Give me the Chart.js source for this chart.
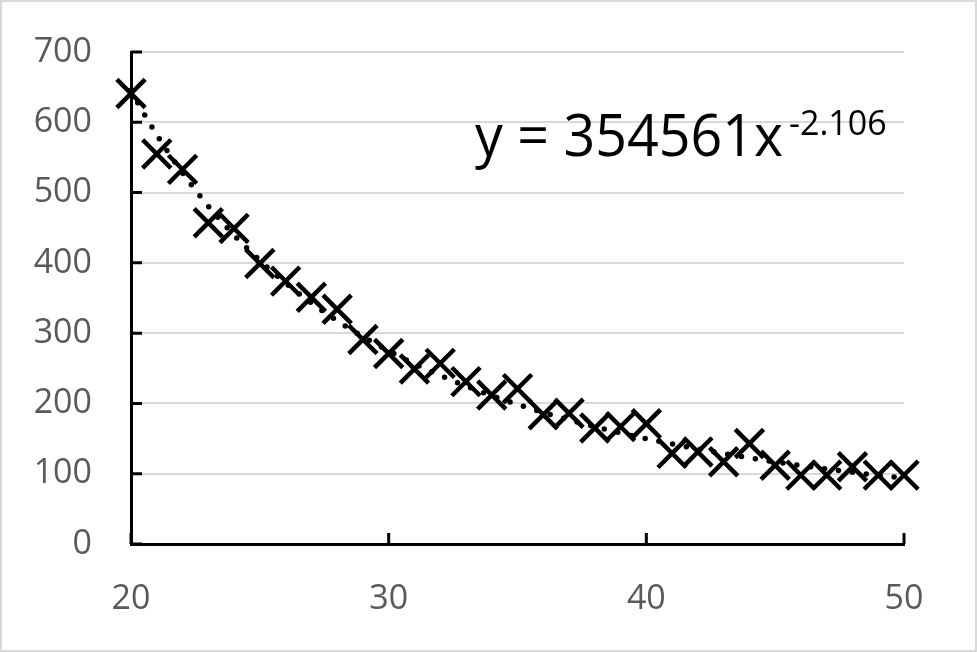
<!DOCTYPE html>
<html><head><meta charset="utf-8">
<script src="https://cdn.jsdelivr.net/npm/chart.js@4.4.1/dist/chart.umd.min.js"></script>
<style>html,body{margin:0;padding:0;background:#fff;overflow:hidden}</style>
</head><body>
<canvas id="c" width="977" height="652"></canvas>
<script>
// ---- data ----
const xValues = [20,21,22,23,24,25,26,27,28,29,30,31,32,33,34,35,36,37,38,39,40,41,42,43,44,45,46,47,48,49,50];
const yValues = [641,555,533,457,449,399,374,351,334,291,271,249,257,231,212,221,184,186,165,167,171,129,131,117,143,112,98,98,110,98,98];
const xTickValues = [20,30,40,50];
const yTickValues = [0,100,200,300,400,500,600,700];
// trendline equation shown on the chart: y = 354561 x^-2.106
const trendCoef = 354561;
const trendExp = -2.106;
const trendText = "y = 354561x";
const trendSup = "-2.106";

const points = xValues.map((x,i)=>({x:x,y:yValues[i]}));
const trendPts = [];
for (let x = xValues[0]; x <= xValues[xValues.length-1] + 1e-9; x += 0.25) {
  trendPts.push({x:x, y: trendCoef*Math.pow(x, trendExp)});
}

const FONT = "'Open Sans', sans-serif";

const decor = {
  id:'decor',
  afterDraw(chart){
    const ctx = chart.ctx;
    const xs = chart.scales.x, ys = chart.scales.y;
    const area = chart.chartArea;
    ctx.save();
    // inner tick marks
    ctx.strokeStyle = '#000';
    ctx.lineWidth = 3;
    ctx.lineCap = 'butt';
    ctx.beginPath();
    yTickValues.forEach(v=>{
      const py = ys.getPixelForValue(v);
      ctx.moveTo(area.left, py); ctx.lineTo(area.left + 11, py);
    });
    xTickValues.forEach(v=>{
      const px = xs.getPixelForValue(v);
      ctx.moveTo(px, area.bottom); ctx.lineTo(px, area.bottom - 11);
    });
    ctx.stroke();
    // equation
    ctx.fillStyle = '#000';
    ctx.textBaseline = 'alphabetic';
    ctx.textAlign = 'left';
    ctx.font = "58px " + FONT;
    const w = ctx.measureText(trendText).width;
    const target = 308;
    ctx.save();
    ctx.translate(475, 156);
    ctx.scale(target / w, 1);
    ctx.fillText(trendText, 0, 0);
    ctx.restore();
    ctx.font = "34px " + FONT;
    const ws = ctx.measureText(trendSup).width;
    ctx.save();
    ctx.translate(475 + target + 6, 135);
    ctx.scale(Math.min(1, 103 / ws), 1);
    ctx.fillText(trendSup, 0, 0);
    ctx.restore();
    // outer frame
    ctx.strokeStyle = '#d9d9d9';
    ctx.lineWidth = 2;
    ctx.strokeRect(1, 1, chart.width - 2, chart.height - 2);
    ctx.restore();
  }
};

new Chart(document.getElementById('c'), {
  type: 'scatter',
  data: {
    datasets: [
      {
        label: 'data',
        data: points,
        showLine: false,
        pointStyle: 'crossRot',
        pointRadius: 20,
        pointHoverRadius: 20,
        pointBorderWidth: 4.5,
        borderColor: '#000',
        backgroundColor: '#000',
        clip: false,
        order: 2
      },
      {
        label: 'trend',
        type: 'line',
        data: trendPts,
        showLine: true,
        pointRadius: 0,
        borderColor: '#000',
        borderWidth: 5.5,
        borderDash: [0, 14],
        borderCapStyle: 'round',
        tension: 0,
        fill: false,
        clip: false,
        order: 1
      }
    ]
  },
  options: {
    responsive: false,
    animation: false,
    events: [],
    layout: { padding: { left: 0, right: 73, top: 52, bottom: 0 } },
    plugins: { legend: { display: false }, tooltip: { enabled: false } },
    scales: {
      x: {
        type: 'linear',
        min: 20, max: 50,
        afterFit(s){ s.height = 108; },
        afterBuildTicks(s){ s.ticks = xTickValues.map(v=>({value:v})); },
        grid: { display: false, drawTicks: false },
        border: { display: true, color: '#000', width: 3 },
        ticks: { color: '#595959', font: { family: FONT, size: 34 }, padding: 35, maxRotation: 0 }
      },
      y: {
        type: 'linear',
        min: 0, max: 700,
        afterFit(s){ s.width = 131; },
        afterBuildTicks(s){ s.ticks = yTickValues.map(v=>({value:v})); },
        grid: { color: '#d9d9d9', lineWidth: 2, drawTicks: true, tickLength: 39, tickColor: 'rgba(0,0,0,0)' },
        border: { display: true, color: '#000', width: 3 },
        ticks: { color: '#595959', font: { family: FONT, size: 34 }, padding: 0 }
      }
    }
  },
  plugins: [decor]
});
</script>
</body></html>
